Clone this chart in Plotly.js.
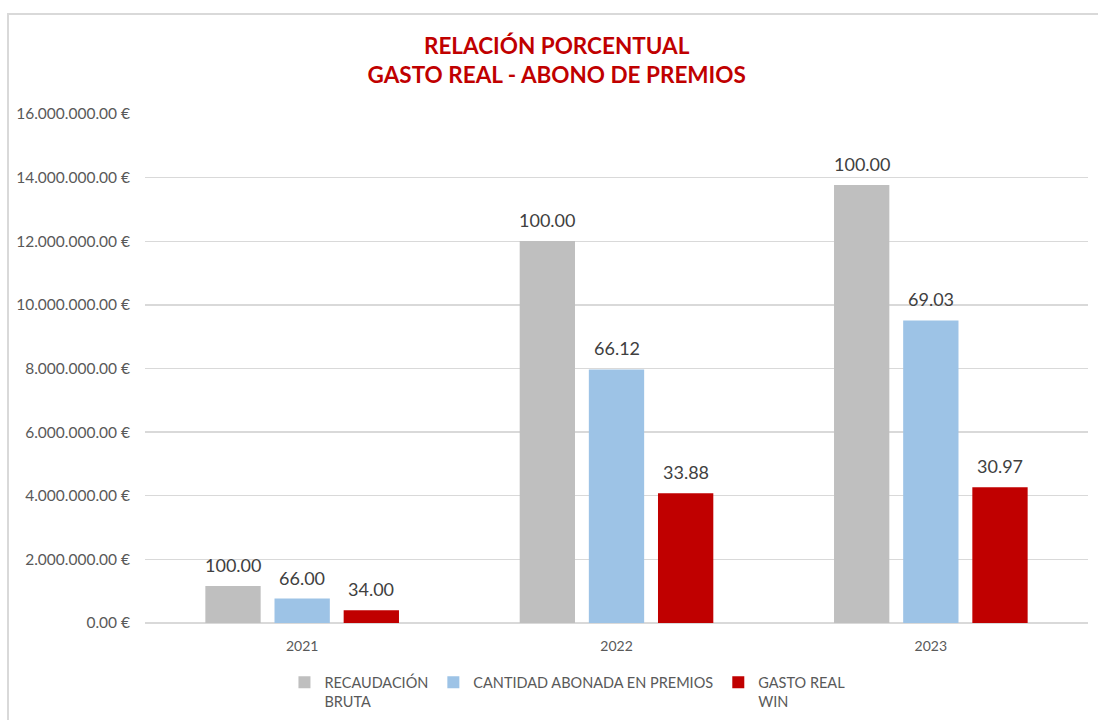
<!DOCTYPE html>
<html>
<head>
<meta charset="utf-8">
<script src="https://cdn.plot.ly/plotly-3.0.1.min.js"></script>
<style>
  body { margin: 0; padding: 0; background: #ffffff; }
  #wrap { position: relative; width: 1098px; height: 720px; }
  #chart { width: 1098px; height: 720px; }
  #frame { position: absolute; left: 7px; top: 13px; right: -4px; bottom: -4px;
           border-left: 2px solid #d9d9d9; border-top: 2px solid #d9d9d9; pointer-events: none; }
</style>
</head>
<body>
<div id="wrap">
  <div id="chart"></div>
  <div id="frame"></div>
</div>
<script>
// Data
var years = ['2021', '2022', '2023'];
var recaudacionBruta = [1160000, 12010000, 13770000];
var cantidadAbonada = [770000, 7970000, 9510000];
var gastoReal = [400000, 4080000, 4270000];
var pctRecaudacion = ['100.00', '100.00', '100.00'];
var pctAbonada = ['66.00', '66.12', '69.03'];
var pctGasto = ['34.00', '33.88', '30.97'];
var seriesNames = ['RECAUDACIÓN<br>BRUTA', 'CANTIDAD ABONADA EN PREMIOS', 'GASTO REAL<br>WIN'];
var tickValues = [0, 2000000, 4000000, 6000000, 8000000, 10000000, 12000000, 14000000, 16000000];
var tickLabels = ['0.00 €', '2.000.000.00 €', '4.000.000.00 €', '6.000.000.00 €', '8.000.000.00 €',
                  '10.000.000.00 €', '12.000.000.00 €', '14.000.000.00 €', '16.000.000.00 €'];

var colors = ['#bfbfbf', '#9dc3e6', '#c00000'];
var FONT = 'Lato, "Open Sans", "Liberation Sans", sans-serif';
var BARGAP = 0.34, GROUPGAP = 0.2;

var allValues = [recaudacionBruta, cantidadAbonada, gastoReal];
var allPct = [pctRecaudacion, pctAbonada, pctGasto];

var data = allValues.map(function (vals, j) {
  return {
    type: 'bar', name: seriesNames[j], x: years, y: vals,
    marker: { color: colors[j] },
    hoverinfo: 'x+y'
  };
});

// Value labels placed above each bar (bar centre derived from group layout)
var annotations = [];
var slot = (1 - BARGAP) / 3;
allValues.forEach(function (vals, j) {
  vals.forEach(function (v, i) {
    annotations.push({
      xref: 'x', yref: 'y', x: i + (j - 1) * slot, y: v,
      text: allPct[j][i], showarrow: false,
      xanchor: 'center', yanchor: 'bottom', yshift: 8,
      font: { family: FONT, size: 18, color: '#404040' }
    });
  });
});

var layout = {
  width: 1098, height: 720,
  paper_bgcolor: '#ffffff', plot_bgcolor: '#ffffff',
  margin: { l: 145, r: 10, t: 114, b: 97, autoexpand: false },
  font: { family: FONT, color: '#595959', size: 14 },
  title: {
    text: '<b>RELACIÓN PORCENTUAL<br>GASTO REAL - ABONO DE PREMIOS</b>',
    font: { family: FONT, size: 22.5, color: '#c00000' },
    x: 0.507, xref: 'container', xanchor: 'center',
    y: 0.925, yref: 'container', yanchor: 'middle'
  },
  barmode: 'group',
  bargap: BARGAP,
  bargroupgap: GROUPGAP,
  xaxis: {
    type: 'category',
    showgrid: false, showline: false, zeroline: false,
    ticks: '', tickfont: { family: FONT, size: 14, color: '#595959' },
    ticklabelstandoff: 13
  },
  yaxis: {
    range: [0, 16000000], tickmode: 'array', tickvals: tickValues, ticktext: tickLabels,
    showgrid: true, gridcolor: '#d9d9d9', gridwidth: 1.3,
    zeroline: true, zerolinecolor: '#d9d9d9', zerolinewidth: 1.3,
    showline: false, ticks: '', ticklabelstandoff: 14,
    tickfont: { family: FONT, size: 15.5, color: '#595959' }
  },
  annotations: annotations,
  showlegend: true,
  legend: {
    orientation: 'h', x: 0.448, xanchor: 'center', y: -0.085, yanchor: 'top',
    font: { family: FONT, size: 14.5, color: '#595959' },
    valign: 'top', itemwidth: 30, traceorder: 'normal'
  }
};

Plotly.newPlot('chart', data, layout, { displayModeBar: false, staticPlot: true });
</script>
</body>
</html>
